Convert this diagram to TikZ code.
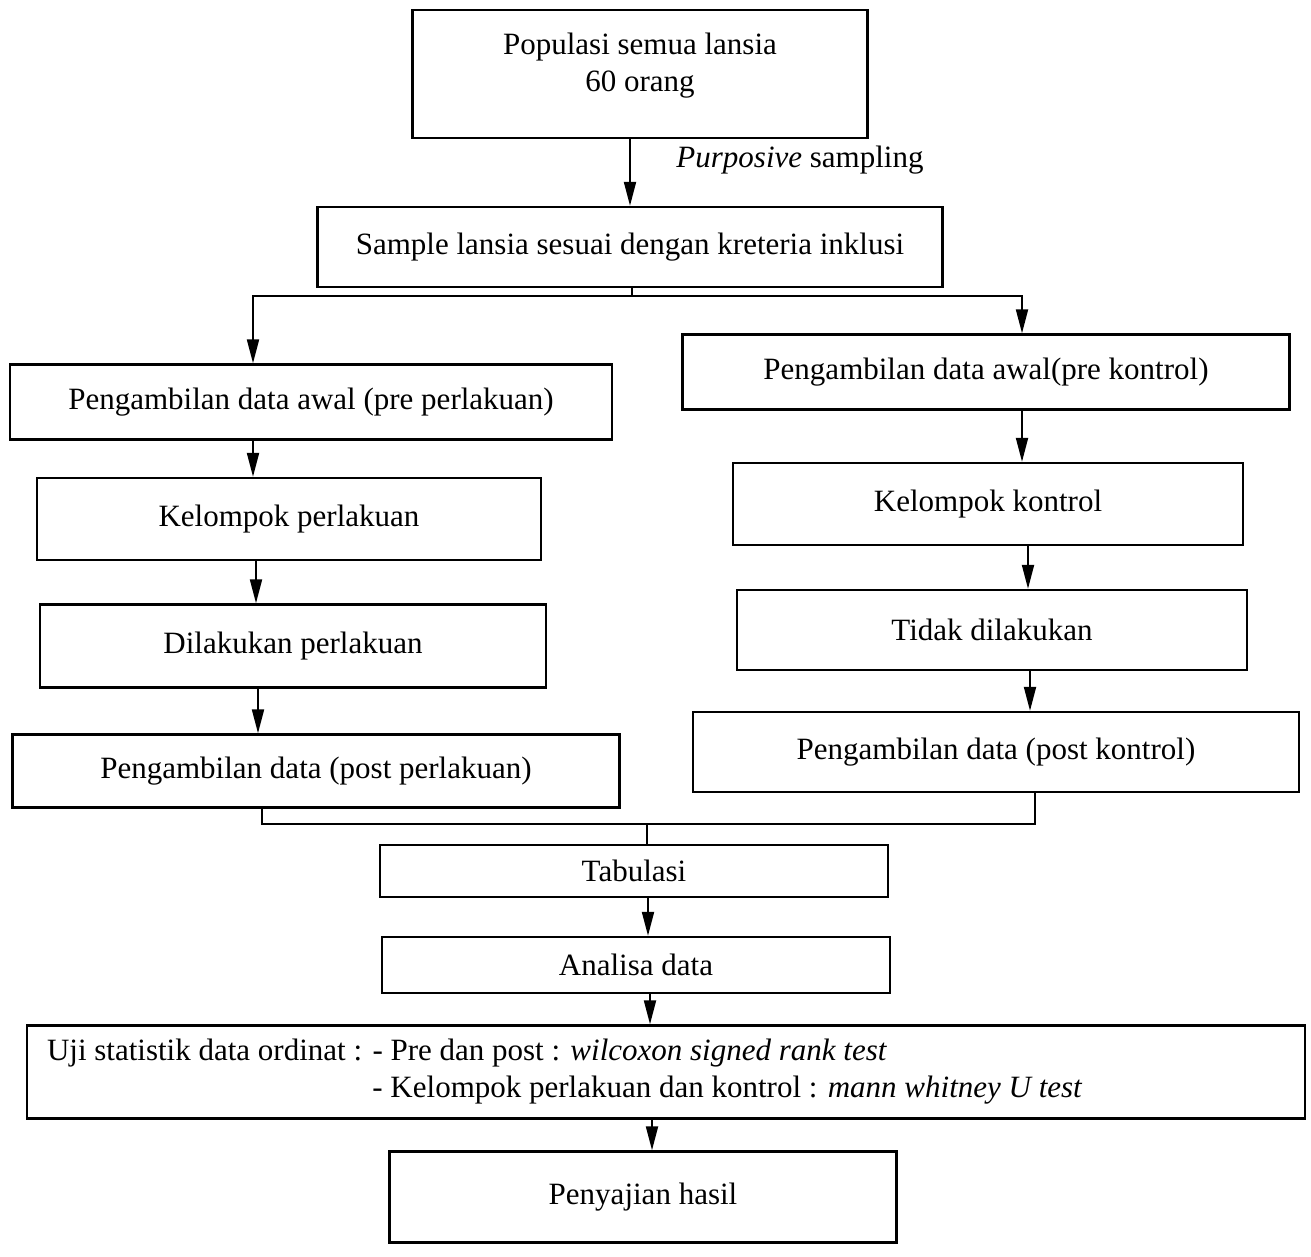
\documentclass[tikz,border=0pt]{standalone}
\usepackage{fontspec}
\setmainfont{Liberation Serif}
\usetikzlibrary{arrows.meta}

\begin{document}
\begin{tikzpicture}[
x=1pt, y=-1pt,
every node/.style={rectangle,draw,line width=2.4pt,inner sep=0pt,align=center,
  font=\fontsize{31}{37}\selectfont},
>={Triangle[length=24pt,width=12pt]},
link/.style={line width=2pt}
]
\useasboundingbox[fill=white] (0,0) rectangle (1311,1256);

\node (1) at (640,74) [minimum width=455pt, minimum height=128pt]
  {Populasi semua lansia\\60 orang\\[-14pt]\mbox{}};
\node (p) at (800,160) [draw=none] {\textit{Purposive} sampling};
\node (2) at (630,247) [minimum width=625pt, minimum height=80pt]
  {Sample lansia sesuai dengan kreteria inklusi};

% kelompok perlakuan
\node (3) at (311,402) [minimum width=602pt, minimum height=75pt]
  {Pengambilan data awal (pre perlakuan)};
\node (5) at (289,519) [minimum width=504pt, minimum height=82pt] {Kelompok perlakuan};
\node (6) at (293,646) [minimum width=506pt, minimum height=83pt] {Dilakukan perlakuan};
\node (7) at (316,771) [minimum width=607pt, minimum height=73pt]
  {Pengambilan data (post perlakuan)};

% kelompok kontrol
\node (4) at (986,372) [minimum width=607pt, minimum height=75pt]
  {Pengambilan data awal(pre kontrol)};
\node (8) at (988,504) [minimum width=510pt, minimum height=82pt] {Kelompok kontrol};
\node (9) at (992,630) [minimum width=510pt, minimum height=80pt] {Tidak dilakukan};
\node (10) at (996,752) [minimum width=606pt, minimum height=80pt]
  {Pengambilan data (post kontrol)};

\node (11) at (634,871) [minimum width=508pt, minimum height=52pt] {Tabulasi};
\node (12) at (636,965) [minimum width=508pt, minimum height=56pt] {Analisa data};
\node (13) at (666,1072) [minimum height=93pt, text width=1238pt, inner xsep=20pt, align=flush left]
  {Uji statistik data ordinat : \begin{tabular}[t]{@{}l@{}}
   - Pre dan post : \textit{wilcoxon signed rank test}\\
   - Kelompok perlakuan dan kontrol : \textit{mann whitney U test}\end{tabular}};
\node (14) at (643,1197) [minimum width=507pt, minimum height=91pt] {Penyajian hasil};

\coordinate (b) at (632,296);
\coordinate (m) at (647,824);

\draw[link,->] (1.south -| 630,0) -- (2.north -| 630,0);
\draw[link] (2.south -| b) -- (b);
\draw[link,->] (b) -| (3.north -| 253,0);
\draw[link,->] (b) -| (4.north -| 1022,0);

\draw[link,->] (3.south -| 253,0) -- (5.north -| 253,0);
\draw[link,->] (5.south -| 256,0) -- (6.north -| 256,0);
\draw[link,->] (6.south -| 258,0) -- (7.north -| 258,0);

\draw[link,->] (4.south -| 1022,0) -- (8.north -| 1022,0);
\draw[link,->] (8.south -| 1028,0) -- (9.north -| 1028,0);
\draw[link,->] (9.south -| 1030,0) -- (10.north -| 1030,0);

\draw[link] (7.south -| 262,0) |- (m) -| (10.south -| 1035,0);
\draw[link] (m) -- (11.north -| m);
\draw[link,->] (11.south -| 648,0) -- (12.north -| 648,0);
\draw[link,->] (12.south -| 650,0) -- (13.north -| 650,0);
\draw[link,->] (13.south -| 652,0) -- (14.north -| 652,0);
\end{tikzpicture}
\end{document}
